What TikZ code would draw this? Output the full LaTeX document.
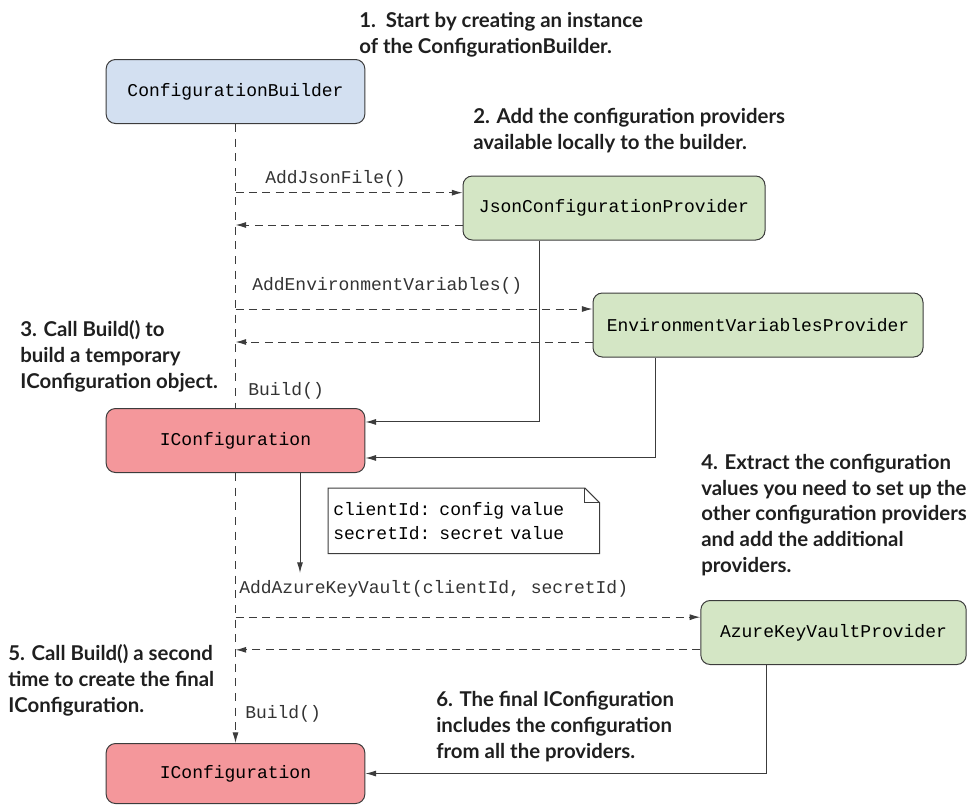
\documentclass[tikz,border=0pt]{standalone}
\usepackage{fontspec}
\setmonofont{Liberation Mono}
\newfontfamily\tipfont{Lato Bold}
\usetikzlibrary{arrows.meta,positioning,calc}
\definecolor{builderblue}{HTML}{D3E0F1}
\definecolor{providergreen}{HTML}{D4E6C5}
\definecolor{configred}{HTML}{F4979B}
\definecolor{edgegray}{HTML}{3C3C3C}

\begin{document}
\begin{tikzpicture}[
  x=0.75pt, y=-0.75pt,
  font=\ttfamily\fontsize{13.5}{18}\selectfont,
  box/.style={draw=edgegray, line width=0.75pt, rounded corners=7pt, align=center, minimum width=#1, minimum height=48pt, inner sep=2pt},
  box/.default=194pt,
  bld/.style={box=#1, fill=builderblue},
  prv/.style={box=#1, fill=providergreen},
  cfg/.style={box=#1, fill=configred},
  notebox/.style={inner sep=3.75pt, text width=195.75pt, minimum height=48.75pt, align=left},
  tip/.style={font=\tipfont\fontsize{15.3}{19.2}\selectfont, text=black!88, align=left, anchor=base west, inner sep=0pt},
  call/.style={anchor=base west, inner sep=0pt, text=black!80},
  arr/.style={-{Latex[length=8pt,width=4.5pt]}, line width=0.75pt, edgegray},
  msg/.style={arr, dash pattern=on 6pt off 4pt},
  life/.style={line width=0.75pt, edgegray, dash pattern=on 6pt off 5pt},
  ]
\useasboundingbox (0,0) rectangle (980,804);
% participants
\node[bld=194pt]                      (builder) at (235.5,91.5) {ConfigurationBuilder};
\node[prv=226.5pt]                    (json)    at (614,208)    {JsonConfigurationProvider};
\node[prv=247.5pt]                    (env)     at (758,325)    {EnvironmentVariablesProvider};
\node[cfg=194pt]                      (conf1)   at (235.5,440.5) {IConfiguration};
\node[prv=199pt]                      (azure)   at (833.5,632.5) {AzureKeyVaultProvider};
\node[cfg=194pt, minimum height=45pt] (conf2)   at (235.5,773.5) {IConfiguration};
% note with folded corner
\node[notebox, anchor=north west] (note) at (328,488) {clientId: config value\\secretId: secret value};
\draw[line width=0.75pt, edgegray] (note.south west) -- (note.south east) -- ([yshift=-11pt]note.north east)
  -- ([xshift=-11pt]note.north east) -- (note.north west) -- cycle;
\draw[line width=0.75pt, edgegray] ([xshift=-11pt]note.north east) |- ([yshift=-11pt]note.north east);
% messages
\node[call] (addjson)  at (265,183) {AddJsonFile()};
\node[call] (addenv)   at (252,290) {AddEnvironmentVariables()};
\node[call] (build1)   at (248,395) {Build()};
\node[call] (addazure) at (239,593) {AddAzureKeyVault(clientId, secretId)};
\node[call] (build2)   at (245,718) {Build()};
% steps (anchored at the baseline of their last line)
\node[tip] (step1) at (359,53)  {1.\ \ Start by creating an instance\\of the ConfigurationBuilder.};
\node[tip] (step2) at (473,149) {2. Add the configuration providers\\available locally to the builder.};
\node[tip] (step3) at (20,388)  {3. Call Build() to\\build a temporary\\IConfiguration object.};
\node[tip] (step4) at (701,572) {4. Extract the configuration\\values you need to set up the\\other configuration providers\\and add the additional\\providers.};
\node[tip] (step5) at (8,712)   {5. Call Build() a second\\time to create the final\\IConfiguration.};
\node[tip] (step6) at (436,758) {6. The final IConfiguration\\includes the configuration\\from all the providers.};
\coordinate (fetch) at (300,573);
% arrows
\draw[life] (builder.south) -- (conf1.north);
\draw[life, -{Latex[length=8pt,width=4.5pt]}] (conf1.south) -- (conf2.north);
\draw[msg] ([yshift=11.5pt]json.west -| builder.south) -- ([yshift=11.5pt]json.west);
\draw[msg] ([yshift=-12.75pt]json.west) -- ([yshift=-12.75pt]json.west -| builder.south);
\draw[msg] ([yshift=12pt]env.west -| builder.south) -- ([yshift=12pt]env.west);
\draw[msg] ([yshift=-12.75pt]env.west) -- ([yshift=-12.75pt]env.west -| builder.south);
\draw[msg] ([yshift=11.5pt]azure.west -| builder.south) -- ([yshift=11.5pt]azure.west);
\draw[msg] ([yshift=-13pt]azure.west) -- ([yshift=-13pt]azure.west -| builder.south);
\draw[arr] ([xshift=-56.25pt]json.south) |- ([yshift=13.9pt]conf1.east);
\draw[arr] ([xshift=-77.25pt]env.south) |- ([yshift=-13.1pt]conf1.east);
\draw[arr] (conf1.south -| fetch) -- (fetch);
\draw[arr] ([xshift=-49.9pt]azure.south) |- (conf2.east);
\end{tikzpicture}
\end{document}
